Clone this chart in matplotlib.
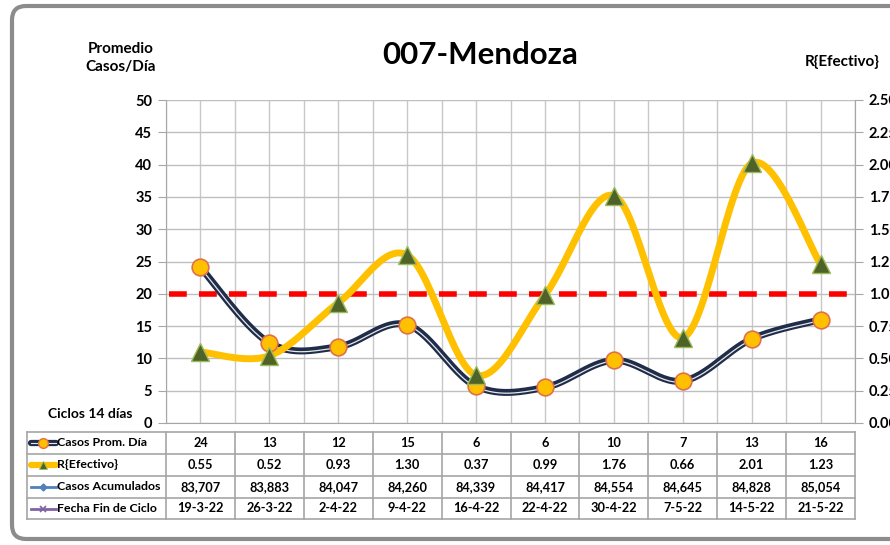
import numpy as np
import matplotlib
matplotlib.use("Agg")
import matplotlib.pyplot as plt
from matplotlib.patches import FancyBboxPatch

plt.rcParams['font.family'] = ['Lato', 'DejaVu Sans']

title = "007-Mendoza"
fechas = ["19-3-22", "26-3-22", "2-4-22", "9-4-22", "16-4-22", "22-4-22",
          "30-4-22", "7-5-22", "14-5-22", "21-5-22"]
casos_prom = [24.1, 12.4, 11.8, 15.2, 5.7, 5.5, 9.7, 6.5, 13.0, 16.0]
casos_prom_lbl = ["24", "13", "12", "15", "6", "6", "10", "7", "13", "16"]
r_efectivo = [0.55, 0.52, 0.93, 1.30, 0.37, 0.99, 1.76, 0.66, 2.01, 1.23]
casos_acum = [83707, 83883, 84047, 84260, 84339, 84417, 84554, 84645, 84828, 85054]
row_labels = ["Casos Prom. Día", "R{Efectivo}", "Casos Acumulados", "Fecha Fin de Ciclo"]
left_ticks = [0, 5, 10, 15, 20, 25, 30, 35, 40, 45, 50]
right_ticks = [0.0, 0.25, 0.5, 0.75, 1.0, 1.25, 1.5, 1.75, 2.0, 2.25, 2.5]
r_threshold = 1.0


def catmull(x, y, n=30):
    x = np.asarray(x, float); y = np.asarray(y, float)
    P = np.column_stack([x, y])
    P = np.vstack([P[0], P, P[-1]])
    out = []
    t = np.linspace(0, 1, n)[:, None]
    for i in range(1, len(P) - 2):
        p0, p1, p2, p3 = P[i - 1], P[i], P[i + 1], P[i + 2]
        c1 = p1 + (p2 - p0) / 6
        c2 = p2 - (p3 - p1) / 6
        seg = ((1 - t) ** 3) * p1 + 3 * ((1 - t) ** 2) * t * c1 + 3 * (1 - t) * t ** 2 * c2 + t ** 3 * p2
        out.append(seg if i == 1 else seg[1:])
    s = np.vstack(out)
    return s[:, 0], s[:, 1]


W, H = 890, 545
fig = plt.figure(figsize=(W / 100, H / 100), dpi=100)

bg = fig.add_axes([0, 0, 1, 1])
bg.set_xlim(0, W); bg.set_ylim(H, 0); bg.axis('off')
bg.add_patch(FancyBboxPatch((12, 6), 900, 533, boxstyle="round,pad=0,rounding_size=14",
                            fc='white', ec='#8C8C8C', lw=3))

L, R, T, B = 166, 855, 100, 423
ax = fig.add_axes([L / W, 1 - B / H, (R - L) / W, (B - T) / H])
n = len(fechas)
xs = np.arange(n)
ax.set_xlim(-0.5, n - 0.5)
ax.set_ylim(0, 50)
ax.set_yticks(left_ticks)
ax.set_xticks([])
for v in np.arange(-0.5, n, 0.5):
    ax.axvline(v, color='#C8C8C8', lw=1, zorder=0)
for v in left_ticks:
    ax.axhline(v, color='#BFBFBF', lw=1, zorder=0)
ax.spines['top'].set_visible(False)
for s in ['left', 'bottom', 'right']:
    ax.spines[s].set_color('#A6A6A6')
ax.tick_params(axis='y', direction='out', length=6, color='#A6A6A6', pad=4, labelsize=10.5)
for lab in ax.get_yticklabels():
    lab.set_fontweight('bold')

ax2 = ax.twinx()
ax2.set_ylim(0, 2.5)
ax2.set_yticks(right_ticks)
ax2.set_yticklabels([f"{v:.2f}" for v in right_ticks])
for s in ['top', 'left', 'bottom']:
    ax2.spines[s].set_visible(False)
ax2.spines['right'].set_color('#A6A6A6')
ax2.tick_params(axis='y', direction='out', length=6, color='#A6A6A6', pad=4, labelsize=10.5)
for lab in ax2.get_yticklabels():
    lab.set_fontweight('bold')

ax2.plot([-0.45, n - 0.5], [r_threshold, r_threshold], color='#FF0000', lw=4,
         dashes=(3.2, 2.2), zorder=3)

sx, sy = catmull(xs, casos_prom)
ax2.plot(sx, np.array(sy) / 20, color='#1F2D4A', lw=5, solid_capstyle='round', zorder=4)
ax2.plot(sx, np.array(sy) / 20 - 0.006, color='#E8E8E8', lw=0.9, zorder=4)
ax2.plot(xs, np.array(casos_prom) / 20, 'o', ms=12, mfc='#FFC000', mec='#E0704A', mew=1.2,
         zorder=6)

rx, ry = catmull(xs, r_efectivo)
ax2.plot(rx, ry, color='#FFC000', lw=5, solid_capstyle='round', zorder=5)
ax2.plot(xs, r_efectivo, '^', ms=13, mfc='#4F6228', mec='#9BBB59', mew=1, zorder=7)

fig.text(480 / W, 1 - 55 / H, title, ha='center', va='center', fontsize=22.5, fontweight='bold')
fig.text(121 / W, 1 - 58 / H, "Promedio\nCasos/Día", ha='center', va='center', fontsize=11,
         fontweight='bold', linespacing=1.45)
fig.text(805 / W, 1 - 62 / H, "R{Efectivo}", ha='left', va='center', fontsize=11,
         fontweight='bold')
fig.text(90 / W, 1 - 414 / H, "Ciclos 14 días", ha='center', va='center', fontsize=10,
         fontweight='bold')

tx0, tx1 = 27, R
rows_y = [432, 454, 476, 498, 519]
cw = (R - L) / n
gc = '#A6A6A6'
for yv in rows_y:
    bg.plot([tx0, tx1], [yv, yv], color=gc, lw=1.2, zorder=2)
bg.plot([tx0, tx0], [rows_y[0], rows_y[-1]], color=gc, lw=1.2)
for i in range(n + 1):
    xv = L + i * cw
    bg.plot([xv, xv], [rows_y[0], rows_y[-1]], color=gc, lw=1.2)

table_vals = [casos_prom_lbl,
              [f"{v:.2f}" for v in r_efectivo],
              [f"{v:,}" for v in casos_acum],
              fechas]
for r_i, vals in enumerate(table_vals):
    yc = (rows_y[r_i] + rows_y[r_i + 1]) / 2
    for i, v in enumerate(vals):
        bg.text(L + (i + 0.5) * cw, yc, v, ha='center', va='center', fontsize=9.2,
                fontweight='bold')
    bg.text(57, yc, row_labels[r_i], ha='left', va='center', fontsize=8.9, fontweight='bold')

ky = [(rows_y[k] + rows_y[k + 1]) / 2 for k in range(4)]
bg.plot([31, 56], [ky[0], ky[0]], color='#1F2D4A', lw=4.5, solid_capstyle='round')
bg.plot([31, 56], [ky[0], ky[0]], color='#E8E8E8', lw=0.8)
bg.plot([43], [ky[0]], 'o', ms=7, mfc='#FFC000', mec='#E0704A', mew=1)
bg.plot([31, 56], [ky[1], ky[1]], color='#FFC000', lw=4.5, solid_capstyle='round')
bg.plot([43], [ky[1]], '^', ms=6, mfc='#4F6228', mec='#9BBB59', mew=0.6)
bg.plot([31, 56], [ky[2], ky[2]], color='#4F81BD', lw=2)
bg.plot([43], [ky[2]], 'D', ms=3.5, mfc='#4F81BD', mec='#4F81BD')
bg.plot([31, 56], [ky[3], ky[3]], color='#8064A2', lw=2)
bg.plot([43], [ky[3]], 'x', ms=5, mec='#8064A2', mew=1.2)

fig.savefig("out.png", dpi=100)
